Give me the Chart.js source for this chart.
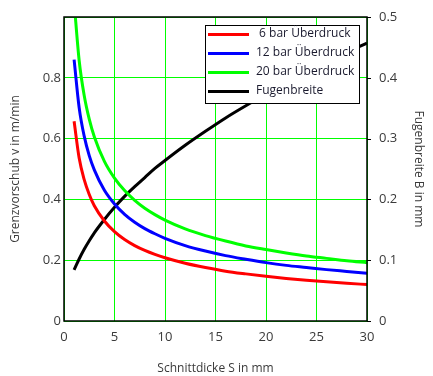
<!DOCTYPE html>
<html>
<head>
<meta charset="utf-8">
<script src="https://cdn.jsdelivr.net/npm/chart.js@4"></script>
<style>
  html, body { margin: 0; padding: 0; background: #fff; }
  #wrap { width: 433px; height: 376px; }
</style>
</head>
<body>
<div id="wrap"><canvas id="chart_div" width="433" height="376"></canvas></div>
<script>
// Schnittdicke S in mm
const dicke = [1, 1.5, 2, 2.5, 3, 4, 5, 6, 7, 8, 9, 10, 12, 14, 16, 18, 20, 22, 24, 26, 28, 30];
// Grenzvorschub v in m/min
const bar6  = [0.657, 0.536, 0.465, 0.416, 0.379, 0.329, 0.294, 0.268, 0.248, 0.232, 0.219, 0.208, 0.190, 0.176, 0.164, 0.155, 0.147, 0.140, 0.134, 0.129, 0.124, 0.120];
const bar12 = [0.860, 0.702, 0.608, 0.544, 0.497, 0.430, 0.385, 0.351, 0.325, 0.304, 0.287, 0.272, 0.248, 0.230, 0.215, 0.203, 0.192, 0.183, 0.176, 0.169, 0.163, 0.157];
const bar20 = [1.050, 0.857, 0.742, 0.664, 0.606, 0.525, 0.470, 0.429, 0.397, 0.371, 0.350, 0.332, 0.303, 0.281, 0.263, 0.247, 0.235, 0.224, 0.214, 0.206, 0.198, 0.192];
// Fugenbreite B in mm
const fuge  = [0.084, 0.102, 0.118, 0.132, 0.145, 0.167, 0.187, 0.205, 0.221, 0.236, 0.251, 0.264, 0.289, 0.312, 0.334, 0.354, 0.373, 0.392, 0.409, 0.426, 0.442, 0.457];

const labels = [' 6 bar Überdruck', '12 bar Überdruck', '20 bar Überdruck', 'Fugenbreite'];
const colors = ['#ff0000', '#0000ff', '#00ff00', '#000000'];

const FONT = '"Open Sans", "DejaVu Sans", sans-serif';
const TEXT = '#3a3a3a';

function pts(ys) {
    return dicke.map((x, i) => ({ x: x, y: ys[i] }));
}

function mkSet(i, ys, axis) {
    return {
        label: labels[i],
        data: pts(ys),
        yAxisID: axis,
        borderColor: colors[i],
        backgroundColor: colors[i],
        borderWidth: 3,
        pointRadius: 0,
        cubicInterpolationMode: 'monotone',
        clip: 0
    };
}

// rahmen, kleine ticks rechts und legende selbst zeichnen
const framePlugin = {
    id: 'frame',
    afterDraw(chart) {
        const ctx = chart.ctx;
        const a = chart.chartArea;
        ctx.save();
        ctx.strokeStyle = '#000';
        ctx.lineWidth = 1.5;
        ctx.strokeRect(a.left, a.top, a.right - a.left, a.bottom - a.top);

        // ticks an der rechten achse
        const sb = chart.scales.b;
        ctx.lineWidth = 1;
        sb.ticks.forEach((t) => {
            const y = Math.round(sb.getPixelForValue(t.value)) + 0.5;
            ctx.beginPath();
            ctx.moveTo(a.right, y);
            ctx.lineTo(a.right + 4, y);
            ctx.stroke();
        });

        // legende
        const bx = 205, by = 25, bw = 154, bh = 78;
        ctx.fillStyle = '#fff';
        ctx.fillRect(bx, by, bw, bh);
        ctx.lineWidth = 1;
        ctx.strokeStyle = '#000';
        ctx.strokeRect(bx + 0.5, by + 0.5, bw, bh);
        ctx.font = '12px ' + FONT;
        ctx.textBaseline = 'middle';
        ctx.textAlign = 'left';
        chart.data.datasets.forEach((ds, i) => {
            const y = by + 9 + i * 19;
            ctx.strokeStyle = ds.borderColor;
            ctx.lineWidth = 3;
            ctx.beginPath();
            ctx.moveTo(bx + 3, y + 0.5);
            ctx.lineTo(bx + 44, y + 0.5);
            ctx.stroke();
            ctx.fillStyle = '#1a1a2e';
            ctx.fillText(ds.label, bx + 51, y);
        });
        ctx.restore();
    }
};

function createChart(ctx) {
    return new Chart(ctx, {
        type: 'line',
        data: {
            datasets: [
                mkSet(0, bar6, 'v'),
                mkSet(1, bar12, 'v'),
                mkSet(2, bar20, 'v'),
                mkSet(3, fuge, 'b')
            ]
        },
        options: {
            responsive: false,
            animation: false,
            layout: { padding: { top: 17, left: 0, right: 0, bottom: 0 } },
            plugins: {
                legend: { display: false },
                tooltip: { enabled: false }
            },
            scales: {
                x: {
                    type: 'linear',
                    min: 0,
                    max: 30,
                    ticks: { stepSize: 5, color: TEXT, font: { family: FONT, size: 13 }, padding: 8, maxRotation: 0 },
                    grid: { color: '#00ff00', lineWidth: 1, drawTicks: false },
                    border: { display: false },
                    title: { display: true, text: 'Schnittdicke S in mm', color: TEXT, font: { family: FONT, size: 12 }, padding: { top: 0, bottom: 0 } },
                    afterFit: (s) => { s.height = 55; }
                },
                v: {
                    type: 'linear',
                    position: 'left',
                    min: 0,
                    max: 1,
                    ticks: {
                        stepSize: 0.2,
                        color: TEXT,
                        font: { family: FONT, size: 13 },
                        padding: 3,
                        callback: (val) => (val >= 1 ? '' : (val === 0 ? '0' : val.toFixed(1)))
                    },
                    grid: { color: '#00ff00', lineWidth: 1, drawTicks: false },
                    border: { display: false },
                    title: { display: true, text: 'Grenzvorschub v in m/min', color: TEXT, font: { family: FONT, size: 12 }, padding: { top: 8, bottom: 0 } },
                    afterFit: (s) => { s.width = 64; }
                },
                b: {
                    type: 'linear',
                    position: 'right',
                    min: 0,
                    max: 0.5,
                    ticks: {
                        stepSize: 0.1,
                        color: TEXT,
                        font: { family: FONT, size: 13 },
                        padding: 4,
                        callback: (val) => (val === 0 ? '0' : val.toFixed(1))
                    },
                    grid: { display: false },
                    border: { display: false },
                    title: { display: true, text: 'Fugenbreite B in mm', color: TEXT, font: { family: FONT, size: 12 }, padding: { top: 7, bottom: 0 } },
                    afterFit: (s) => { s.width = 66; }
                }
            }
        },
        plugins: [framePlugin]
    });
}

document.addEventListener('DOMContentLoaded', () => {
    createChart(document.getElementById('chart_div'));
});
</script>
</body>
</html>
